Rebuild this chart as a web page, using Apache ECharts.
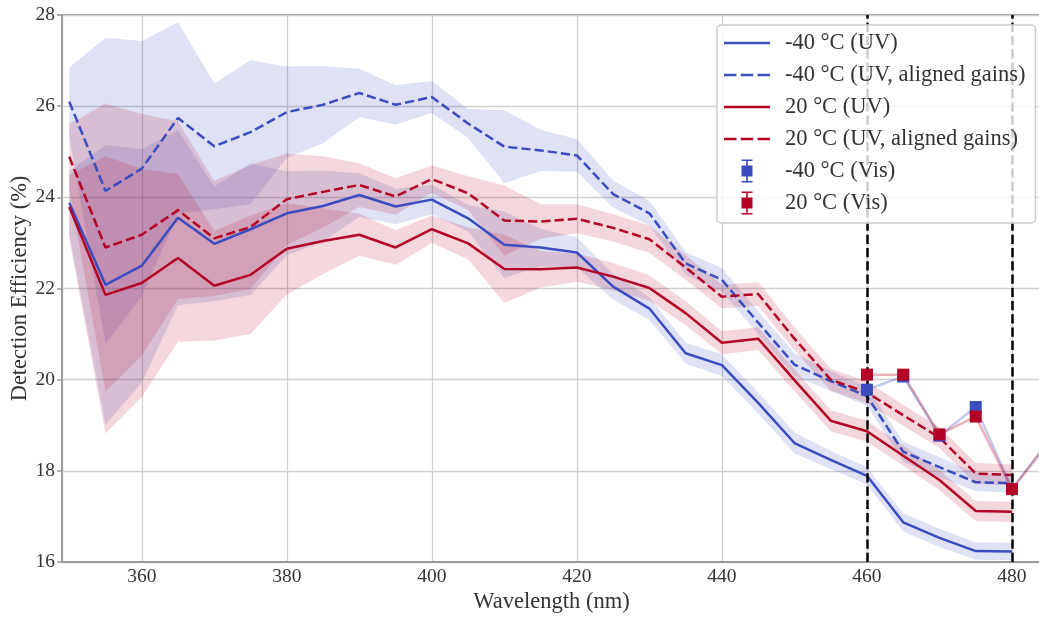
<!DOCTYPE html>
<html>
<head>
<meta charset="utf-8">
<script src="https://cdn.jsdelivr.net/npm/echarts@6.0.0/dist/echarts.min.js"></script>
<style>
html,body{margin:0;padding:0;background:#fff;}
#chart{width:1039px;height:617px;}
</style>
</head>
<body>
<div id="chart"></div>
<script>
// ---- data ----
const wavelengths = [350,355,360,365,370,375,380,385,390,395,400,405,410,415,420,425,430,435,440,445,450,455,460,465,470,475,480];

const blueUV        = [23.88,22.08,22.50,23.55,22.98,23.30,23.65,23.81,24.05,23.80,23.95,23.54,22.96,22.90,22.79,22.04,21.56,20.58,20.32,19.49,18.61,18.24,17.89,16.87,16.53,16.24,16.23];
const blueUVErr     = [0.69,3.07,2.56,1.92,1.26,1.44,0.92,0.78,0.48,0.39,0.32,0.29,0.73,0.41,0.33,0.28,0.25,0.23,0.24,0.23,0.23,0.20,0.19,0.20,0.20,0.19,0.19];

const blueAligned    = [26.10,24.14,24.63,25.74,25.12,25.43,25.87,26.03,26.29,26.03,26.20,25.62,25.11,25.03,24.92,24.07,23.65,22.55,22.19,21.25,20.33,19.97,19.64,18.42,18.08,17.75,17.73];
const blueAlignedErr = [0.75,3.36,2.80,2.10,1.38,1.58,1.00,0.85,0.53,0.43,0.35,0.32,0.80,0.45,0.36,0.30,0.27,0.25,0.26,0.25,0.25,0.22,0.21,0.22,0.22,0.20,0.20];

const redUV         = [23.79,21.86,22.12,22.67,22.06,22.30,22.87,23.04,23.18,22.90,23.30,22.99,22.43,22.42,22.46,22.26,22.01,21.46,20.81,20.90,19.99,19.10,18.87,18.33,17.80,17.12,17.10];
const redUVErr      = [0.70,3.04,2.50,1.84,1.20,1.30,1.00,0.72,0.46,0.38,0.30,0.35,0.75,0.40,0.31,0.30,0.28,0.26,0.25,0.25,0.24,0.23,0.23,0.22,0.22,0.22,0.22];

const redAligned     = [24.89,22.90,23.18,23.72,23.10,23.35,23.96,24.12,24.27,24.02,24.40,24.09,23.49,23.47,23.53,23.33,23.08,22.46,21.82,21.88,20.90,20.00,19.72,19.22,18.73,17.94,17.91];
const redAlignedErr  = [0.72,3.16,2.65,1.95,1.26,1.36,1.00,0.78,0.48,0.40,0.30,0.37,0.77,0.38,0.32,0.30,0.30,0.27,0.26,0.26,0.25,0.24,0.24,0.23,0.23,0.23,0.23];

const visWavelengths = [460,465,470,475,480,485];
const blueVis        = [19.78,20.07,18.77,19.40,17.60,18.65];
const redVis         = [20.11,20.11,18.80,19.19,17.60,18.60];

const markWavelengths = [460,480];
const xTickValues = [360,380,400,420,440,460,480];

// ---- styling ----
const BLUE = '#3b4cc0';
const RED  = '#b40426';
const BLUE_BAND = 'rgba(59,76,192,0.16)';
const RED_BAND  = 'rgba(180,4,38,0.16)';
const FONT = 'Liberation Serif';
const DASH = [9.25, 4];

function pairs(xs, ys){ return xs.map((x,i)=>[x, ys[i]]); }

function bandSeries(id, vals, errs, color){
  const rows = wavelengths.map((x,i)=>[x, vals[i]-errs[i], vals[i]+errs[i]]);
  return {
    name: id, type:'custom', silent:true, z:1,
    data: rows,
    encode:{x:0, y:[1,2]},
    renderItem: function(params, api){
      if (params.dataIndex !== 0) return null;
      const upper = rows.map(r=>api.coord([r[0], r[2]]));
      const lower = rows.map(r=>api.coord([r[0], r[1]])).reverse();
      return {type:'polygon', shape:{points: upper.concat(lower)}, style:{fill: color}};
    }
  };
}

const errIcon    = 'path://M0,0H11V1.6H0Z M4.7,0H6.3V23H4.7Z M0,21.4H11V23H0Z M0,6H11V17H0Z';
const solidIcon  = 'path://M0,0H46V2.5H0Z';
const dashedIcon = 'path://M0,0H12.5V2.5H0Z M16.75,0H29.25V2.5H16.75Z M33.5,0H46V2.5H33.5Z';

const series = [
  bandSeries('bandBlueAligned', blueAligned, blueAlignedErr, BLUE_BAND),
  bandSeries('bandBlueUV', blueUV, blueUVErr, BLUE_BAND),
  bandSeries('bandRedAligned', redAligned, redAlignedErr, RED_BAND),
  bandSeries('bandRedUV', redUV, redUVErr, RED_BAND),
  {name:'-40 °C (UV)', type:'line', data:pairs(wavelengths, blueUV), symbol:'none', z:2,
   lineStyle:{color:BLUE, width:2.5}, itemStyle:{color:BLUE}},
  {name:'-40 °C (UV, aligned gains)', type:'line', data:pairs(wavelengths, blueAligned), symbol:'none', z:2,
   lineStyle:{color:BLUE, width:2.5, type:DASH}, itemStyle:{color:BLUE}},
  {name:'20 °C (UV)', type:'line', data:pairs(wavelengths, redUV), symbol:'none', z:2,
   lineStyle:{color:RED, width:2.5}, itemStyle:{color:RED}},
  {name:'20 °C (UV, aligned gains)', type:'line', data:pairs(wavelengths, redAligned), symbol:'none', z:2,
   lineStyle:{color:RED, width:2.5, type:DASH}, itemStyle:{color:RED}},
  {name:'marks', type:'line', data:[], z:3, silent:true,
   markLine:{silent:true, z:3, symbol:['none','none'], label:{show:false},
     lineStyle:{color:'#000', width:2.5, type:DASH},
     data: markWavelengths.map(w=>({xAxis:w}))}},
  {name:'-40 °C (Vis)', type:'line', data:pairs(visWavelengths, blueVis), z:3,
   symbol:'rect', symbolSize:12, showSymbol:true,
   lineStyle:{color:BLUE, width:2.5, opacity:0.3}, itemStyle:{color:BLUE}},
  {name:'20 °C (Vis)', type:'line', data:pairs(visWavelengths, redVis), z:3,
   symbol:'rect', symbolSize:12, showSymbol:true,
   lineStyle:{color:RED, width:2.5, opacity:0.3}, itemStyle:{color:RED}}
];

const chart = echarts.init(document.getElementById('chart'), null, {renderer:'canvas'});
chart.setOption({
  animation:false,
  backgroundColor:'#fff',
  textStyle:{fontFamily:FONT},
  grid:{left:62, right:-2, top:15, bottom:55, containLabel:false, outerBoundsMode:'none',
        show:true, borderColor:'#9a9a9a', borderWidth:2},
  xAxis:{
    type:'value', min:349, max:484, splitNumber:7, minInterval:20, maxInterval:20,
    name:'Wavelength (nm)', nameLocation:'middle', nameGap:29, nameMoveOverlap:false,
    nameTextStyle:{fontFamily:FONT, fontSize:22.5, color:'#333'},
    axisLine:{show:true, onZero:false, lineStyle:{color:'#9a9a9a', width:2}},
    axisTick:{show:false},
    axisLabel:{fontFamily:FONT, fontSize:19.5, color:'#333', margin:5,
               showMinLabel:false, showMaxLabel:false,
               formatter:function(v){ return xTickValues.indexOf(v)>=0 ? String(v) : ''; }},
    splitLine:{show:true, lineStyle:{color:'#cfcfcf', width:1.3}}
  },
  yAxis:{
    type:'value', min:16, max:28, interval:2,
    name:'Detection Efficiency (%)', nameLocation:'middle', nameGap:30, nameMoveOverlap:false,
    nameTextStyle:{fontFamily:FONT, fontSize:22.5, color:'#333'},
    axisLine:{show:true, lineStyle:{color:'#9a9a9a', width:2}},
    axisTick:{show:true, length:5, lineStyle:{color:'#9a9a9a', width:1.5}},
    axisLabel:{fontFamily:FONT, fontSize:19.5, color:'#333', margin:7},
    splitLine:{show:true, lineStyle:{color:'#cfcfcf', width:1.3}}
  },
  legend:{
    orient:'vertical', left:717, top:25, z:10,
    padding:[6,10,8,7],
    itemWidth:46, itemHeight:23, itemGap:8,
    backgroundColor:'rgba(255,255,255,0.8)', borderColor:'#cccccc', borderWidth:1.5, borderRadius:4,
    textStyle:{fontFamily:FONT, fontSize:22.5, color:'#333', lineHeight:24, padding:[0,0,0,10]},
    data:[
      {name:'-40 °C (UV)', icon:solidIcon},
      {name:'-40 °C (UV, aligned gains)', icon:dashedIcon},
      {name:'20 °C (UV)', icon:solidIcon},
      {name:'20 °C (UV, aligned gains)', icon:dashedIcon},
      {name:'-40 °C (Vis)', icon:errIcon},
      {name:'20 °C (Vis)', icon:errIcon}
    ]
  },
  series: series
});
</script>
</body>
</html>
